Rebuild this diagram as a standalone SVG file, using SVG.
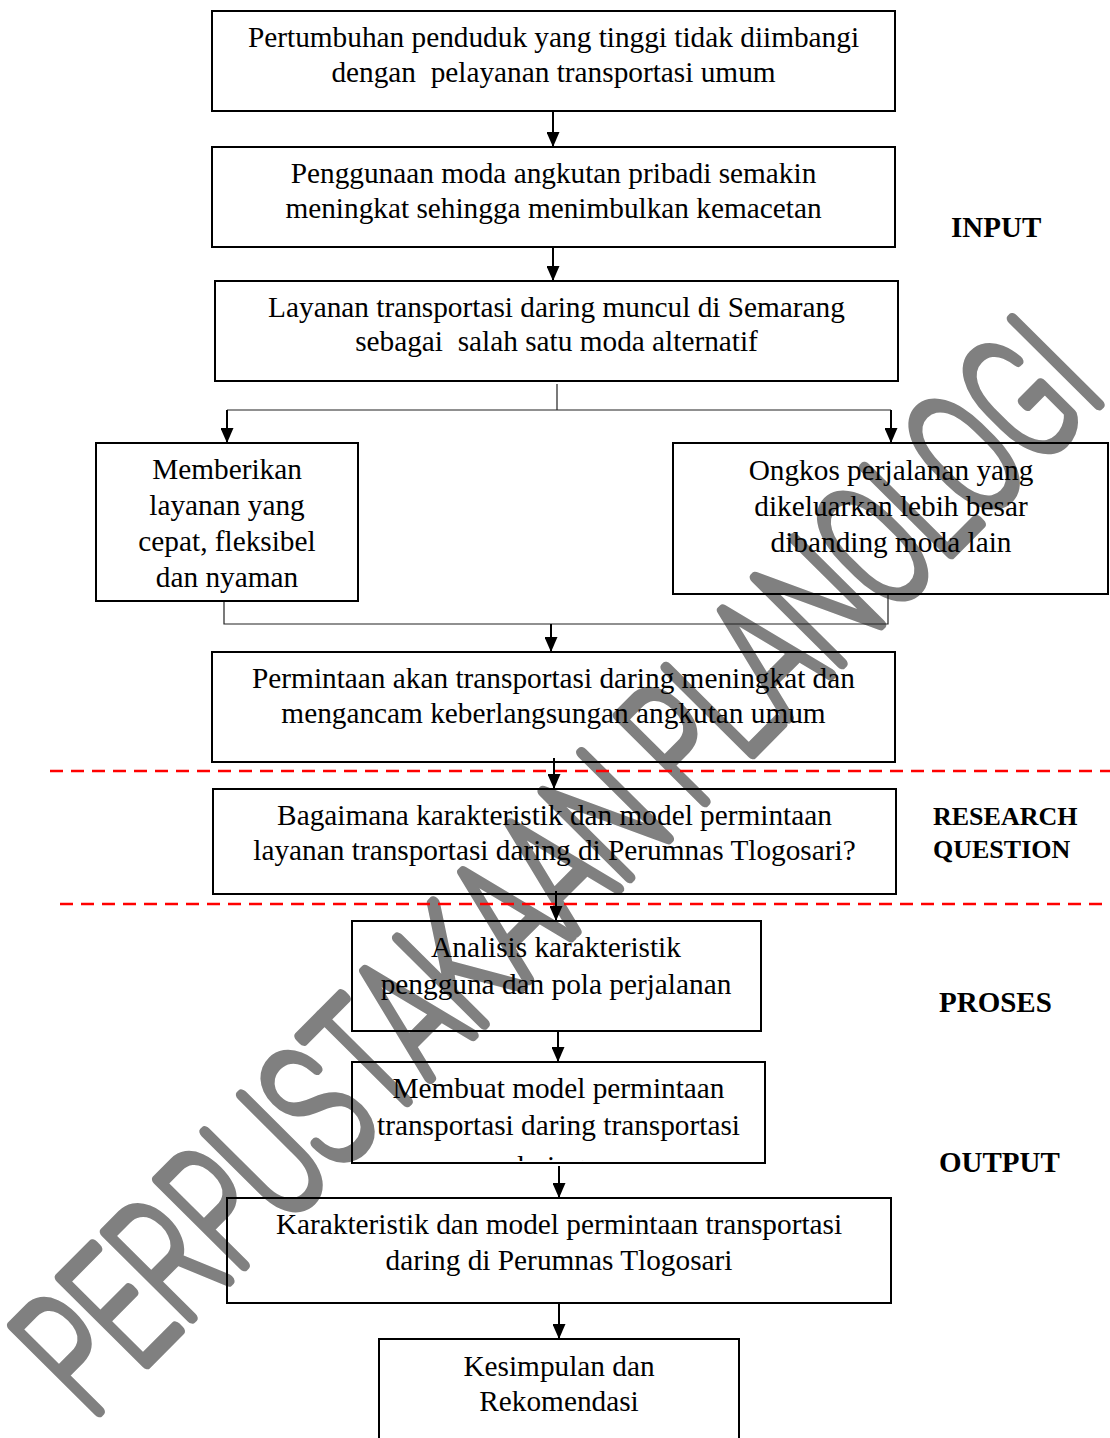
<svg xmlns="http://www.w3.org/2000/svg" width="1110" height="1438" viewBox="0 0 1110 1438">
<defs>
<style>
.box{fill:none;stroke:#000;stroke-width:2}
.t{font-family:"Liberation Serif","Times New Roman",serif;font-size:29.3px;fill:#000;text-anchor:middle}
.lbl{font-family:"Liberation Serif","Times New Roman",serif;font-weight:bold;fill:#000}
.ar{stroke:#000;stroke-width:2;fill:none}
.ln{stroke:#222;stroke-width:1.2;fill:none}
.dash{stroke:#f00;stroke-width:2.6;stroke-dasharray:13 8;fill:none}
.wm{font-family:Roboto,"DejaVu Sans",sans-serif;font-weight:100;font-size:170px;fill:#808080;stroke:#808080;stroke-width:12;stroke-linejoin:round;stroke-linecap:round}
</style>
<marker id="arr" markerUnits="userSpaceOnUse" markerWidth="15" markerHeight="13" viewBox="0 0 15 13" refX="15" refY="6.5" orient="auto">
<path d="M0,0 L15,6.5 L0,13 z" fill="#000"/>
</marker>
<clipPath id="clip8"><rect x="352" y="1062" width="413" height="99"/></clipPath>
</defs>
<rect width="1110" height="1438" fill="#fff"/>
<g id="watermark">
<text class="wm" transform="translate(90,1420) rotate(-45.2)" x="0" y="0" textLength="1446" lengthAdjust="spacingAndGlyphs">PERPUSTAKAAN PLANOLOGI</text>
</g>
<g id="dividers">
<line class="dash" x1="50" y1="771" x2="1110" y2="771"/>
<line class="dash" x1="60" y1="904" x2="1110" y2="904"/>
</g>
<g id="connectors">
<line class="ar" x1="553" y1="111" x2="553" y2="147" marker-end="url(#arr)"/>
<line class="ar" x1="553" y1="247" x2="553" y2="281" marker-end="url(#arr)"/>
<path class="ln" d="M557,384 V410 M227,410 H891"/>
<line class="ar" x1="227" y1="410" x2="227" y2="443" marker-end="url(#arr)"/>
<line class="ar" x1="891" y1="410" x2="891" y2="443" marker-end="url(#arr)"/>
<path class="ln" d="M224,602 V624 H888 V594"/>
<line class="ar" x1="551" y1="624" x2="551" y2="652" marker-end="url(#arr)"/>
<line class="ar" x1="554" y1="758" x2="554" y2="789" marker-end="url(#arr)"/>
<line class="ar" x1="556" y1="891" x2="556" y2="921" marker-end="url(#arr)"/>
<line class="ar" x1="558" y1="1031" x2="558" y2="1062" marker-end="url(#arr)"/>
<line class="ar" x1="559" y1="1166" x2="559" y2="1198" marker-end="url(#arr)"/>
<line class="ar" x1="559" y1="1303" x2="559" y2="1339" marker-end="url(#arr)"/>
</g>
<g id="n1">
<rect class="box" x="212" y="11" width="683" height="100"/>
<text class="t" x="553.5" y="47">Pertumbuhan penduduk yang tinggi tidak diimbangi</text>
<text class="t" x="553.5" y="82" xml:space="preserve">dengan  pelayanan transportasi umum</text>
</g>
<g id="n2">
<rect class="box" x="212" y="147" width="683" height="100"/>
<text class="t" x="553.5" y="183">Penggunaan moda angkutan pribadi semakin</text>
<text class="t" x="553.5" y="218">meningkat sehingga menimbulkan kemacetan</text>
</g>
<g id="n3">
<rect class="box" x="215" y="281" width="683" height="100"/>
<text class="t" x="556.5" y="317">Layanan transportasi daring muncul di Semarang</text>
<text class="t" x="556.5" y="351" xml:space="preserve">sebagai  salah satu moda alternatif</text>
</g>
<g id="n4">
<rect class="box" x="96" y="443" width="262" height="158"/>
<text class="t" x="227" y="479">Memberikan</text>
<text class="t" x="227" y="515">layanan yang</text>
<text class="t" x="227" y="551">cepat, fleksibel</text>
<text class="t" x="227" y="587">dan nyaman</text>
</g>
<g id="n5">
<rect class="box" x="673" y="443" width="435" height="151"/>
<text class="t" x="891" y="480">Ongkos perjalanan yang</text>
<text class="t" x="891" y="516">dikeluarkan lebih besar</text>
<text class="t" x="891" y="552">dibanding moda lain</text>
</g>
<g id="n6">
<rect class="box" x="212" y="652" width="683" height="110"/>
<text class="t" x="553.5" y="688">Permintaan akan transportasi daring meningkat dan</text>
<text class="t" x="553.5" y="723">mengancam keberlangsungan angkutan umum</text>
</g>
<g id="n7">
<rect class="box" x="213" y="789" width="683" height="105"/>
<text class="t" x="554.5" y="825">Bagaimana karakteristik dan model permintaan</text>
<text class="t" x="554.5" y="860">layanan transportasi daring di Perumnas Tlogosari?</text>
</g>
<g id="n8">
<rect class="box" x="352" y="921" width="409" height="110"/>
<text class="t" x="556" y="957">Analisis karakteristik</text>
<text class="t" x="556" y="994">pengguna dan pola perjalanan</text>
</g>
<g id="n9">
<rect class="box" x="352" y="1062" width="413" height="101"/>
<text class="t" x="558.5" y="1098">Membuat model permintaan</text>
<text class="t" x="558.5" y="1135">transportasi daring transportasi</text>
<text class="t" x="547" y="1176" clip-path="url(#clip8)">daring</text>
</g>
<g id="n10">
<rect class="box" x="227" y="1198" width="664" height="105"/>
<text class="t" x="559" y="1234">Karakteristik dan model permintaan transportasi</text>
<text class="t" x="559" y="1270">daring di Perumnas Tlogosari</text>
</g>
<g id="n11">
<rect class="box" x="379" y="1339" width="360" height="110"/>
<text class="t" x="559" y="1376">Kesimpulan dan</text>
<text class="t" x="559" y="1411">Rekomendasi</text>
</g>
<g id="labels">
<text class="lbl" x="951" y="237" font-size="29">INPUT</text>
<text class="lbl" x="933" y="825" font-size="26">RESEARCH</text>
<text class="lbl" x="933" y="858" font-size="26">QUESTION</text>
<text class="lbl" x="939" y="1012" font-size="29">PROSES</text>
<text class="lbl" x="939" y="1172" font-size="29">OUTPUT</text>
</g>
</svg>
